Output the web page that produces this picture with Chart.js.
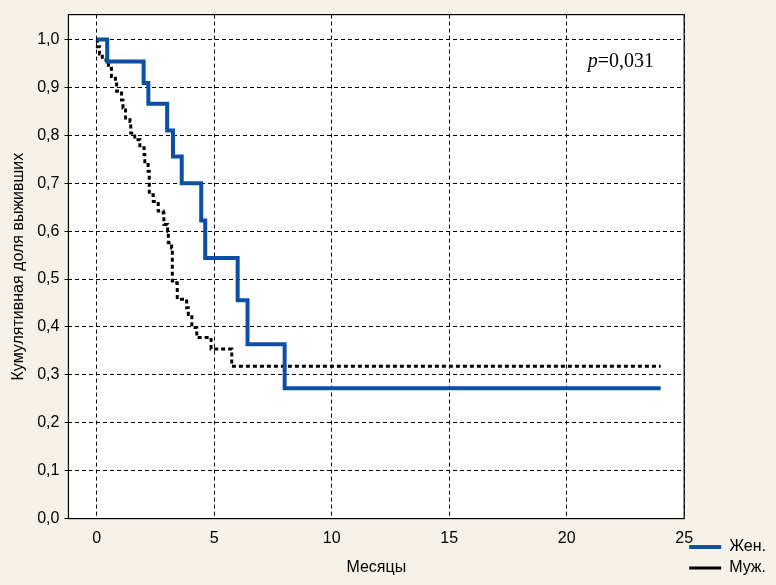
<!DOCTYPE html>
<html>
<head>
<meta charset="utf-8">
<script src="https://cdn.jsdelivr.net/npm/chart.js@4.4.1/dist/chart.umd.min.js"></script>
<style>
  html, body { margin: 0; padding: 0; background: #f6f1e9; }
  #wrap { width: 776px; height: 585px; }
</style>
</head>
<body>
<div id="wrap"><canvas id="km"></canvas></div>
<script>
// Kaplan-Meier curves (months -> cumulative survival)
const femaleMonths = [0, 0.45, 2.0, 2.2, 3.0, 3.25, 3.62, 4.45, 4.62, 6.0, 6.42, 8.0, 24];
const femaleSurv   = [1.0, 0.954, 0.909, 0.866, 0.81, 0.756, 0.70, 0.622, 0.544, 0.456, 0.364, 0.272, 0.272];

const maleMonths = [0, 0.03, 0.12, 0.24, 0.41, 0.5, 0.63, 0.8, 0.85, 1.06,
                    1.12, 1.23, 1.42, 1.45, 1.62, 1.84, 2.02, 2.05, 2.19, 2.24,
                    2.41, 2.62, 2.83, 2.86, 3.02, 3.05, 3.19, 3.22, 3.41, 3.43,
                    3.83, 3.9, 4.05, 4.26, 4.87, 5.75, 24];
const maleSurv   = [1.0, 0.985, 0.97, 0.958, 0.951, 0.94, 0.923, 0.913, 0.892, 0.874,
                    0.857, 0.836, 0.829, 0.805, 0.791, 0.774, 0.760, 0.739, 0.725, 0.676,
                    0.662, 0.642, 0.638, 0.614, 0.600, 0.576, 0.565, 0.496, 0.492, 0.458,
                    0.44, 0.426, 0.399, 0.378, 0.354, 0.318, 0.318];

const seriesNames = ['Жен.', 'Муж.'];
const xTicks = [0, 5, 10, 15, 20, 25];
const yTicks = [0, 0.1, 0.2, 0.3, 0.4, 0.5, 0.6, 0.7, 0.8, 0.9, 1.0];
const xTitle = 'Месяцы';
const yTitle = 'Кумулятивная доля выживших';
const pText = ['p', '=0,031'];

const toPoints = (xs, ys) => xs.map((x, i) => ({ x: x, y: ys[i] }));

// beige page, white plot area, black frame and the p-value note
const frame = {
  id: 'frame',
  beforeDraw(chart) {
    const { ctx, chartArea: a } = chart;
    ctx.save();
    ctx.fillStyle = '#f6f1e9';
    ctx.fillRect(0, 0, chart.width, chart.height);
    ctx.fillStyle = '#ffffff';
    ctx.fillRect(a.left, a.top, a.right - a.left, a.bottom - a.top);
    ctx.restore();
  },
  afterDraw(chart) {
    const { ctx, chartArea: a, scales } = chart;
    ctx.save();
    ctx.strokeStyle = '#000';
    ctx.lineWidth = 1.2;
    ctx.strokeRect(a.left, a.top, a.right - a.left, a.bottom - a.top);

    const px = scales.x.getPixelForValue(20.9);
    const py = scales.y.getPixelForValue(0.942);
    ctx.fillStyle = '#000';
    ctx.textBaseline = 'alphabetic';
    ctx.font = 'italic 20px "Liberation Serif"';
    ctx.fillText(pText[0], px, py);
    const w = ctx.measureText(pText[0]).width;
    ctx.font = '20px "Liberation Serif"';
    ctx.fillText(pText[1], px + w, py);
    ctx.restore();
  }
};

const font = { family: '"Liberation Sans", Arial, sans-serif', size: 16 };

new Chart(document.getElementById('km'), {
  type: 'line',
  data: {
    datasets: [
      {
        label: seriesNames[0],
        data: toPoints(femaleMonths, femaleSurv),
        borderColor: '#0b50a4',
        backgroundColor: '#0b50a4',
        borderWidth: 4,
        stepped: true,
        pointRadius: 0,
        fill: false
      },
      {
        label: seriesNames[1],
        data: toPoints(maleMonths, maleSurv),
        borderColor: '#000000',
        backgroundColor: '#000000',
        borderWidth: 3,
        borderDash: [4, 3],
        stepped: true,
        pointRadius: 0,
        fill: false
      }
    ]
  },
  options: {
    responsive: true,
    maintainAspectRatio: false,
    animation: false,
    layout: { padding: { left: 5, right: 0, top: 3, bottom: 4 } },
    plugins: {
      tooltip: { enabled: false },
      legend: {
        position: 'right',
        align: 'end',
        labels: {
          usePointStyle: true,
          pointStyle: 'line',
          pointStyleWidth: 32,
          padding: 5,
          color: '#000',
          font: font
        }
      }
    },
    scales: {
      x: {
        type: 'linear',
        min: -1.2,
        max: 25,
        afterBuildTicks: s => { s.ticks = xTicks.map(v => ({ value: v })); },
        ticks: { color: '#000', font: font, padding: 10, maxRotation: 0 },
        grid: { color: '#000', lineWidth: 1, drawTicks: false },
        border: { display: false, dash: [4, 3] },
        title: { display: true, text: xTitle, color: '#000', font: font, padding: { top: 0, bottom: 4 } }
      },
      y: {
        type: 'linear',
        min: 0,
        max: 1.052,
        afterBuildTicks: s => { s.ticks = yTicks.map(v => ({ value: v })); },
        ticks: {
          color: '#000',
          font: font,
          padding: 5,
          callback: v => v.toFixed(1).replace('.', ',')
        },
        grid: { color: '#000', lineWidth: 1, drawTicks: true, tickLength: 4 },
        border: { display: false, dash: [4, 3] },
        title: { display: true, text: yTitle, color: '#000', font: font, padding: { top: 4, bottom: 4 } }
      }
    }
  },
  plugins: [frame]
});
</script>
</body>
</html>
